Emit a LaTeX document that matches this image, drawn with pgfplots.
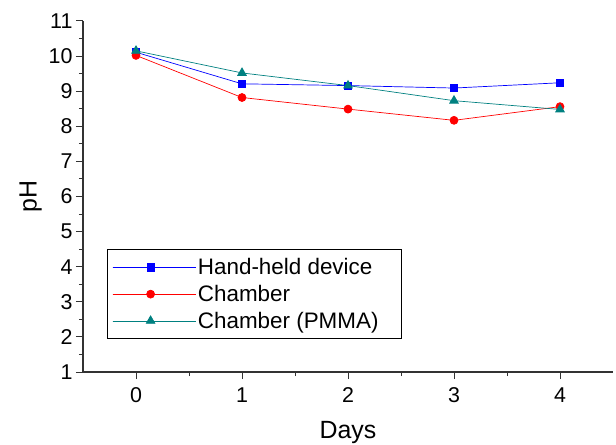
\documentclass[border=0pt]{standalone}
\usepackage{fontspec}
\setmainfont{Liberation Sans}
\usepackage{pgfplots}
\pgfplotsset{compat=1.18}
\definecolor{hhblue}{RGB}{0,0,255}
\definecolor{chred}{RGB}{255,0,0}
\definecolor{pmteal}{RGB}{0,128,128}
\begin{document}
\begin{tikzpicture}
\begin{axis}[
    scale only axis,
    width=530bp, height=351bp,
    xmin=-0.5, xmax=4.5,
    ymin=1, ymax=11,
    axis x line=bottom, axis y line=left,
    axis line style={-, line width=1.2pt, black!80},
    xtick={0,1,2,3,4},
    ytick={1,2,...,11},
    minor x tick num=1,
    minor y tick num=1,
    tick align=outside,
    major tick length=7bp,
    minor tick length=4bp,
    tick style={line width=1pt, black!80},
    /pgf/number format/assume math mode=true,
    ticklabel style={font=\fontsize{21.5}{23}\selectfont},
    xticklabel style={yshift=-5bp},
    xlabel={Days}, ylabel={pH},
    label style={font=\fontsize{25}{27}\selectfont},
    xlabel style={yshift=-12bp},
    legend style={at={(0.045,0.35)}, anchor=north west,
        font=\fontsize{22.5}{24}\selectfont, draw=black, line width=0.8pt,
        row sep=5bp, inner xsep=5bp, inner ysep=7bp},
    legend cell align=left,
    legend image code/.code={
        \path (0bp,0bp) -- (83bp,0bp);
        \draw[mark repeat=2,mark phase=2] plot coordinates {(0bp,0bp) (38bp,0bp) (76bp,0bp)};},
    clip=false,
]
\addplot[hhblue, line width=0.7pt, mark=square*, mark size=3.6bp, mark options={solid}]
    coordinates {(0,10.11) (1,9.21) (2,9.16) (3,9.09) (4,9.24)};
\addplot[chred, line width=0.7pt, mark=*, mark size=4bp]
    coordinates {(0,10.02) (1,8.82) (2,8.49) (3,8.17) (4,8.56)};
\addplot[pmteal, line width=0.7pt, mark=triangle*, mark size=5bp]
    coordinates {(0,10.15) (1,9.52) (2,9.16) (3,8.73) (4,8.48)};
\legend{Hand-held device\hspace*{22bp}, Chamber, Chamber (PMMA)}
\end{axis}
\pgfresetboundingbox
\path (current axis.south west) ++(-83bp,-72bp) coordinate (bl);
\path (current axis.north east) ++(3bp,21bp) coordinate (tr);
\path (bl) rectangle (tr);
\end{tikzpicture}
\end{document}
